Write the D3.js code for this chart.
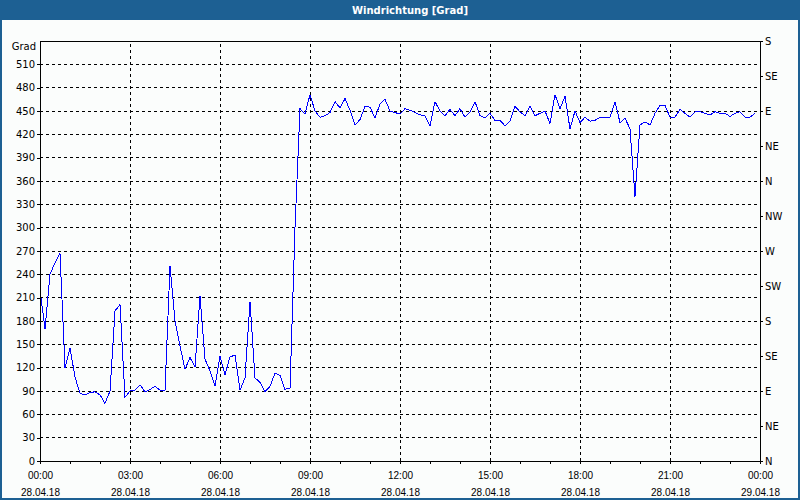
<!DOCTYPE html>
<html>
<head>
<meta charset="utf-8">
<script src="https://d3js.org/d3.v7.min.js"></script>
<style>
  body { margin: 0; background: #fff; }
  svg { display: block; font-family: "DejaVu Sans", Verdana, sans-serif; }
</style>
</head>
<body>
<svg width="800" height="500"></svg>
<script>
// chart data: wind direction every 10 minutes, 28.04.18 00:00 .. 23:50
var startTime = new Date(2018, 3, 28, 0, 0);
var endTime = new Date(2018, 3, 29, 0, 0);
var stepMinutes = 10;

var windDir = [
  220, 170, 240, 255, 267, 120, 145, 108, 87, 85,
  88, 89, 85, 74, 90, 193, 201, 82, 90, 91,
  98, 89, 92, 96, 91, 91, 251, 180, 148, 118,
  133, 121, 212, 131, 116, 96, 135, 111, 134, 136,
  91, 107, 205, 107, 101, 89, 96, 113, 110, 92,
  94, 300, 453, 446, 471, 450, 442, 444, 448, 462,
  454, 466, 451, 432, 439, 456, 455, 441, 459, 465,
  450, 448, 446, 453, 451, 448, 445, 444, 431, 462,
  450, 444, 452, 444, 453, 442, 449, 462, 444, 441,
  447, 438, 438, 431, 437, 456, 449, 444, 456, 444,
  447, 450, 434, 471, 453, 469, 427, 450, 435, 442,
  437, 438, 442, 442, 442, 462, 435, 441, 427, 340,
  432, 436, 432, 447, 457, 457, 442, 442, 452, 447,
  442, 449, 449, 447, 445, 449, 447, 447, 443, 447,
  449, 442, 442, 447
];

var gradTicks = d3.range(0, 540, 30);          // 0 .. 510
var compassTicks = d3.range(0, 541, 45);       // 0 .. 540
var compassNames = ["N", "NE", "E", "SE", "S", "SW", "W", "NW"];

var data = windDir.map(function (v, i) {
  return { t: d3.timeMinute.offset(startTime, i * stepMinutes), v: v };
});

var svg = d3.select("svg"),
  width = +svg.attr("width"),
  height = +svg.attr("height");

var margin = { left: 40, right: 40, top: 41, bottom: 39 };

// window frame + title bar
svg.append("rect")
  .attr("width", width).attr("height", height)
  .attr("fill", "#1d6093");
svg.append("rect")
  .attr("x", 2).attr("y", 20)
  .attr("width", width - 4).attr("height", height - 22)
  .attr("fill", "#fbfdfc");
svg.append("text")
  .attr("x", 410).attr("y", 14)
  .attr("text-anchor", "middle")
  .attr("fill", "#fff")
  .attr("font-size", 10)
  .attr("font-weight", "bold")
  .text("Windrichtung [Grad]");

var x = d3.scaleTime()
  .domain([startTime, endTime])
  .range([margin.left, width - margin.right]);

var y = d3.scaleLinear()
  .domain([0, 540])
  .range([height - margin.bottom, margin.top]);

// grid
var grid = svg.append("g")
  .attr("stroke", "#000")
  .attr("stroke-dasharray", "3,3")
  .attr("shape-rendering", "crispEdges");

grid.selectAll(".hgrid")
  .data(gradTicks.filter(function (d) { return d > 0; }))
  .enter().append("line")
  .attr("x1", x.range()[0]).attr("x2", x.range()[1])
  .attr("y1", function (d) { return y(d); })
  .attr("y2", function (d) { return y(d); });

grid.selectAll(".vgrid")
  .data(x.ticks(d3.timeHour.every(3)).slice(1, -1))
  .enter().append("line")
  .attr("y1", y.range()[0]).attr("y2", y.range()[1])
  .attr("x1", function (d) { return x(d); })
  .attr("x2", function (d) { return x(d); });

// data line
var line = d3.line()
  .x(function (d) { return x(d.t); })
  .y(function (d) { return y(d.v); });

svg.append("path")
  .datum(data)
  .attr("fill", "none")
  .attr("stroke", "#0000ff")
  .attr("stroke-width", 1)
  .attr("shape-rendering", "crispEdges")
  .attr("d", line);

// frame
svg.append("rect")
  .attr("x", x.range()[0]).attr("y", y.range()[1])
  .attr("width", x.range()[1] - x.range()[0])
  .attr("height", y.range()[0] - y.range()[1])
  .attr("fill", "none")
  .attr("stroke", "#000")
  .attr("shape-rendering", "crispEdges");

// axes
function styleAxis(g) {
  g.select(".domain").remove();
  g.selectAll("line").attr("stroke", "#000").attr("shape-rendering", "crispEdges");
  g.selectAll("text").attr("fill", "#000").attr("font-size", 10)
    .attr("font-family", "DejaVu Sans, Verdana, sans-serif");
}

var yLeft = svg.append("g")
  .attr("transform", "translate(" + margin.left + ",0)")
  .call(d3.axisLeft(y).tickValues(gradTicks).tickSize(3).tickPadding(2))
  .call(styleAxis);

svg.append("text")
  .attr("x", 36).attr("y", 50)
  .attr("text-anchor", "end")
  .attr("font-size", 10)
  .text("Grad");

var yRight = svg.append("g")
  .attr("transform", "translate(" + (width - margin.right) + ",0)")
  .call(d3.axisRight(y).tickValues(compassTicks).tickSize(3).tickPadding(2)
    .tickFormat(function (d) { return compassNames[(d / 45) % 8]; }))
  .call(styleAxis);

// minor hourly ticks
svg.append("g")
  .attr("transform", "translate(0," + (height - margin.bottom) + ")")
  .call(d3.axisBottom(x).ticks(d3.timeHour.every(1)).tickSize(3).tickFormat(""))
  .call(styleAxis);

// labelled 3-hour ticks, two lines
var fmtTime = d3.timeFormat("%H:%M"),
  fmtDate = d3.timeFormat("%d.%m.%y");

var xAxis = svg.append("g")
  .attr("transform", "translate(0," + (height - margin.bottom) + ")")
  .call(d3.axisBottom(x).ticks(d3.timeHour.every(3)).tickSize(3).tickFormat(""))
  .call(styleAxis);

xAxis.selectAll(".tick").each(function (d) {
  var t = d3.select(this).append("text")
    .attr("fill", "#000")
    .attr("font-size", 10)
    .attr("text-anchor", "middle");
  t.append("tspan").attr("x", 0).attr("y", 18).text(fmtTime(d));
  t.append("tspan").attr("x", 0).attr("y", 35).text(fmtDate(d));
});
</script>
</body>
</html>
